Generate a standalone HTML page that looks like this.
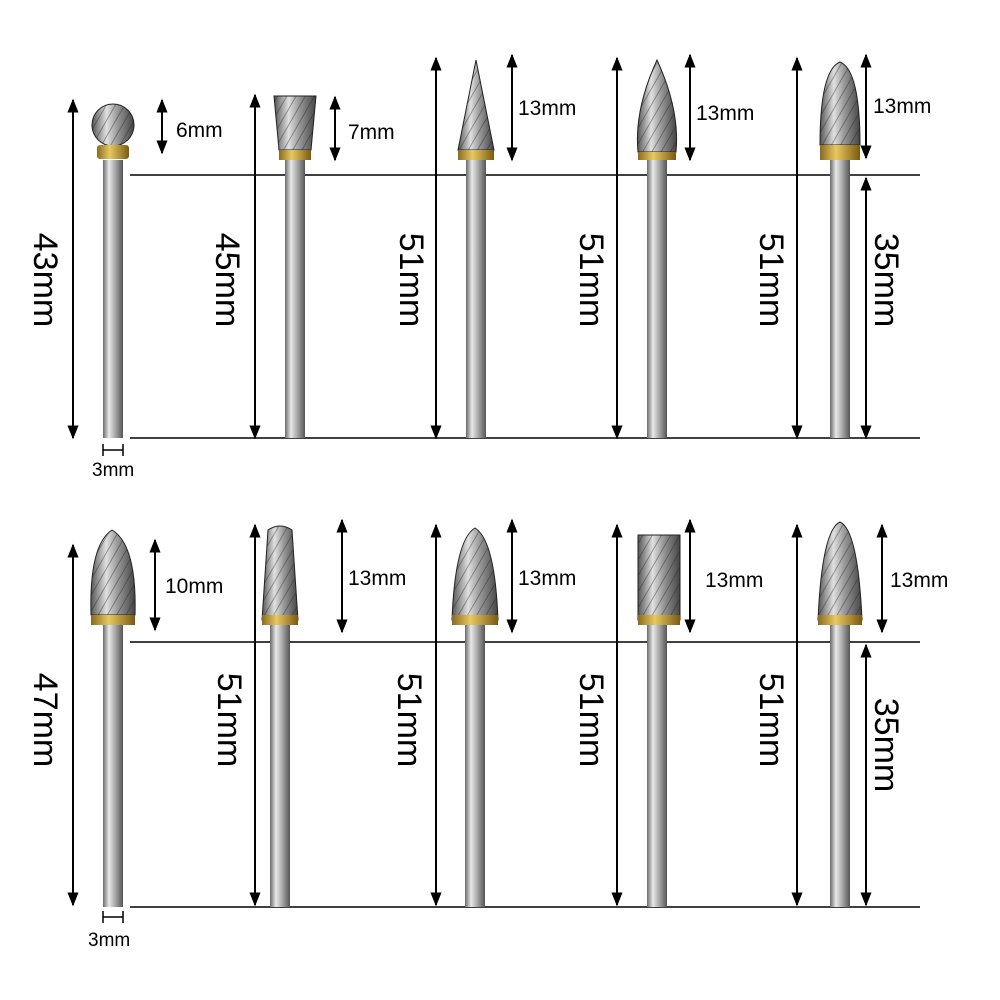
<!DOCTYPE html>
<html><head><meta charset="utf-8"><style>
html,body{margin:0;padding:0;background:#fff;}
svg{display:block;}
text{font-family:"Liberation Sans",sans-serif;fill:#000;}
</style></head><body>
<svg width="1000" height="1000" viewBox="0 0 1000 1000" xmlns="http://www.w3.org/2000/svg">
<defs>
<linearGradient id="sh" x1="0" x2="1" y1="0" y2="0">
<stop offset="0" stop-color="#6a6a6a"/><stop offset="0.3" stop-color="#e8e8e8"/><stop offset="0.55" stop-color="#b5b5b5"/><stop offset="1" stop-color="#555"/>
</linearGradient>
<linearGradient id="hd" x1="0" x2="1" y1="0" y2="0">
<stop offset="0" stop-color="#555"/><stop offset="0.35" stop-color="#e0e0e0"/><stop offset="0.6" stop-color="#999"/><stop offset="1" stop-color="#444"/>
</linearGradient>
<linearGradient id="gd" x1="0" x2="1" y1="0" y2="0">
<stop offset="0" stop-color="#8a6a20"/><stop offset="0.4" stop-color="#e8c860"/><stop offset="1" stop-color="#7a5a10"/>
</linearGradient>
<pattern id="fl" width="8" height="8" patternUnits="userSpaceOnUse" patternTransform="rotate(30)">
<rect width="8" height="8" fill="none"/><line x1="0" y1="0" x2="0" y2="8" stroke="#222" stroke-width="2" opacity="0.4"/>
</pattern>
<marker id="a" viewBox="0 0 10 10" refX="9" refY="5" markerWidth="7" markerHeight="7" orient="auto-start-reverse"><path d="M0,1 L10,5 L0,9 z" fill="#000"/></marker>
</defs>

<g stroke="#000" stroke-width="1.5">
<line x1="130" y1="175" x2="920" y2="175"/>
<line x1="130" y1="438" x2="920" y2="438"/>
<line x1="130" y1="642" x2="920" y2="642"/>
<line x1="130" y1="907" x2="920" y2="907"/>
</g>

<g fill="url(#sh)">
<rect x="103" y="160" width="20" height="278"/>
<rect x="285" y="160" width="20" height="278"/>
<rect x="466" y="160" width="20" height="278"/>
<rect x="647" y="160" width="20" height="278"/>
<rect x="830" y="160" width="20" height="278"/>
<rect x="103" y="620" width="20" height="287"/>
<rect x="270" y="620" width="20" height="287"/>
<rect x="465" y="620" width="20" height="287"/>
<rect x="647" y="620" width="20" height="287"/>
<rect x="830" y="620" width="20" height="287"/>
</g>

<g stroke="#222" stroke-width="1">
<circle cx="113" cy="125" r="21" fill="url(#hd)"/>
<path d="M274,96 L316,96 L311,150 L279,150 Z" fill="url(#hd)"/>
<path d="M476,60 L494,150 L458,150 Z" fill="url(#hd)"/>
<path d="M657,60 Q680,110 676,152 L638,152 Q634,110 657,60 Z" fill="url(#hd)"/>
<path d="M840,62 Q860,70 860,145 L820,145 Q820,70 840,62 Z" fill="url(#hd)"/>
<path d="M112,530 Q137,545 135,615 L91,615 Q89,545 112,530 Z" fill="url(#hd)"/>
<path d="M268,530 Q280,522 292,530 L298,620 L262,620 Z" fill="url(#hd)"/>
<path d="M475,528 Q495,540 498,620 L452,620 Q455,540 475,528 Z" fill="url(#hd)"/>
<rect x="638" y="535" width="42" height="85" fill="url(#hd)"/>
<path d="M840,522 Q858,530 862,620 L818,620 Q822,530 840,522 Z" fill="url(#hd)"/>
</g>
<g fill="url(#fl)">
<circle cx="113" cy="125" r="21"/>
<path d="M274,96 L316,96 L311,150 L279,150 Z"/>
<path d="M476,60 L494,150 L458,150 Z"/>
<path d="M657,60 Q680,110 676,152 L638,152 Q634,110 657,60 Z"/>
<path d="M840,62 Q860,70 860,145 L820,145 Q820,70 840,62 Z"/>
<path d="M112,530 Q137,545 135,615 L91,615 Q89,545 112,530 Z"/>
<path d="M268,530 Q280,522 292,530 L298,620 L262,620 Z"/>
<path d="M475,528 Q495,540 498,620 L452,620 Q455,540 475,528 Z"/>
<rect x="638" y="535" width="42" height="85"/>
<path d="M840,522 Q858,530 862,620 L818,620 Q822,530 840,522 Z"/>
</g>
<g fill="url(#gd)">
<rect x="97" y="145" width="32" height="14" rx="3"/>
<rect x="279" y="150" width="32" height="10"/>
<rect x="458" y="150" width="36" height="10"/>
<rect x="638" y="152" width="38" height="8"/>
<rect x="820" y="145" width="40" height="15"/>
<rect x="91" y="615" width="44" height="10"/>
<rect x="262" y="615" width="36" height="10"/>
<rect x="452" y="615" width="46" height="10"/>
<rect x="638" y="615" width="42" height="10"/>
<rect x="818" y="615" width="44" height="10"/>
</g>

<g stroke="#000" stroke-width="2" marker-start="url(#a)" marker-end="url(#a)">
<line x1="73" y1="100" x2="73" y2="438"/>
<line x1="255" y1="95" x2="255" y2="438"/>
<line x1="436" y1="58" x2="436" y2="438"/>
<line x1="617" y1="58" x2="617" y2="438"/>
<line x1="797" y1="58" x2="797" y2="438"/>
<line x1="162" y1="100" x2="162" y2="153"/>
<line x1="335" y1="97" x2="335" y2="160"/>
<line x1="512" y1="55" x2="512" y2="160"/>
<line x1="690" y1="55" x2="690" y2="160"/>
<line x1="866" y1="55" x2="866" y2="158"/>
<line x1="866" y1="178" x2="866" y2="438"/>
<line x1="73" y1="545" x2="73" y2="905"/>
<line x1="255" y1="525" x2="255" y2="905"/>
<line x1="436" y1="525" x2="436" y2="905"/>
<line x1="617" y1="525" x2="617" y2="905"/>
<line x1="797" y1="525" x2="797" y2="905"/>
<line x1="155" y1="540" x2="155" y2="630"/>
<line x1="342" y1="520" x2="342" y2="632"/>
<line x1="512" y1="520" x2="512" y2="632"/>
<line x1="690" y1="520" x2="690" y2="632"/>
<line x1="882" y1="525" x2="882" y2="632"/>
<line x1="866" y1="645" x2="866" y2="905"/>
</g>
<g stroke="#000" stroke-width="1.5">
<line x1="103" y1="450" x2="123" y2="450"/><line x1="103" y1="444" x2="103" y2="456"/><line x1="123" y1="444" x2="123" y2="456"/>
<line x1="103" y1="917" x2="123" y2="917"/><line x1="103" y1="911" x2="103" y2="923"/><line x1="123" y1="911" x2="123" y2="923"/>
</g>

<g font-size="21">
<text x="176" y="137">6mm</text>
<text x="348" y="139">7mm</text>
<text x="518" y="115">13mm</text>
<text x="696" y="120">13mm</text>
<text x="873" y="113">13mm</text>
<text x="165" y="593">10mm</text>
<text x="348" y="585">13mm</text>
<text x="518" y="585">13mm</text>
<text x="705" y="587">13mm</text>
<text x="890" y="587">13mm</text>
<text x="92" y="476" font-size="19">3mm</text>
<text x="88" y="946" font-size="19">3mm</text>
</g>
<g font-size="34">
<text transform="translate(34,280) rotate(90)" text-anchor="middle">43mm</text>
<text transform="translate(216,280) rotate(90)" text-anchor="middle">45mm</text>
<text transform="translate(400,280) rotate(90)" text-anchor="middle">51mm</text>
<text transform="translate(580,280) rotate(90)" text-anchor="middle">51mm</text>
<text transform="translate(760,280) rotate(90)" text-anchor="middle">51mm</text>
<text transform="translate(875,280) rotate(90)" text-anchor="middle">35mm</text>
<text transform="translate(34,720) rotate(90)" text-anchor="middle">47mm</text>
<text transform="translate(218,720) rotate(90)" text-anchor="middle">51mm</text>
<text transform="translate(398,720) rotate(90)" text-anchor="middle">51mm</text>
<text transform="translate(580,720) rotate(90)" text-anchor="middle">51mm</text>
<text transform="translate(760,720) rotate(90)" text-anchor="middle">51mm</text>
<text transform="translate(875,745) rotate(90)" text-anchor="middle">35mm</text>
</g>
</svg>
</body></html>
